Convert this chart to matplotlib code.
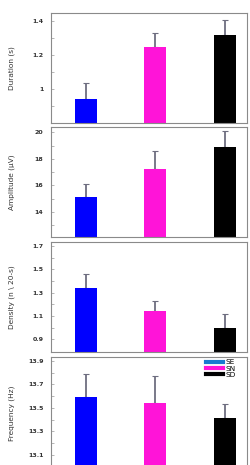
import numpy as np
import matplotlib.pyplot as plt

groups = ["SE", "SN", "SD"]
colors = ["#0000ff", "#ff14d8", "#000000"]
legend_colors = ["#1a7ad0", "#ff14d8", "#000000"]

duration = [0.94, 1.25, 1.32]
duration_err = [0.095, 0.08, 0.086]
amplitude = [15.1, 17.2, 18.9]
amplitude_err = [1.0, 1.4, 1.2]
density = [1.34, 1.14, 0.995]
density_err = [0.118, 0.092, 0.12]
frequency = [13.594, 13.543, 13.41]
frequency_err = [0.196, 0.227, 0.12]

panels = [
    ("Duration (s)", duration, duration_err, (0.8, 1.45), [1, 1.2, 1.4], ["1", "1.2", "1.4"], [0.9, 1.1, 1.3]),
    ("Amplitude (\u03bcV)", amplitude, amplitude_err, (12.1, 20.4), [14, 16, 18, 20], ["14", "16", "18", "20"], [13, 15, 17, 19]),
    ("Density (n \\ 20-s)", density, density_err, (0.79, 1.735), [0.9, 1.1, 1.3, 1.5, 1.7], ["0.9", "1.1", "1.3", "1.5", "1.7"], [1.0, 1.2, 1.4, 1.6]),
    ("Frequency (Hz)", frequency, frequency_err, (12.97, 13.934), [13.1, 13.3, 13.5, 13.7, 13.9], ["13.1", "13.3", "13.5", "13.7", "13.9"], [13.0, 13.2, 13.4, 13.6, 13.8]),
]

# axes boxes in pixels: (top, bottom)
W, H = 250, 465
boxes = [(13, 123), (127, 237), (242, 352), (357, 470)]
left, right = 51, 247

fig = plt.figure(figsize=(W / 100, H / 100), dpi=100)
x = np.arange(3)
for (label, vals, errs, ylim, ticks, ticklabels, minor), (top, bot) in zip(panels, boxes):
    ax = fig.add_axes([left / W, 1 - bot / H, (right - left) / W, (bot - top) / H])
    ax.bar(x, vals, width=0.32, color=colors, zorder=2)
    ax.errorbar(x, vals, yerr=[np.zeros(3), errs], fmt="none", ecolor="#6e6e80",
                elinewidth=1.3, capsize=2.5, capthick=0.8, zorder=1)
    ax.set_xlim(-0.5, 2.32)
    ax.set_ylim(*ylim)
    ax.set_xticks([])
    ax.set_yticks(ticks)
    ax.set_yticklabels(ticklabels, fontsize=4.5, fontweight="bold", color="#333333")
    ax.set_yticks(minor, minor=True)
    ax.tick_params(axis="y", which="both", direction="in", length=2, width=0.5,
                   color="#999999", pad=5.5)
    ax.set_ylabel(label, fontsize=5.3, color="#333333")
    ax.yaxis.set_label_coords(-0.185, 0.5)
    for s in ax.spines.values():
        s.set_color("#8a8a8a")
        s.set_linewidth(0.8)
    if label.startswith("Frequency"):
        handles = [plt.Line2D([], [], color=c, lw=3) for c in legend_colors]
        ax.legend(handles, groups, loc="upper right", bbox_to_anchor=(0.955, 1.0),
                  frameon=False, fontsize=5.3, handlelength=2.3, labelspacing=0.0,
                  borderaxespad=0.1, handletextpad=0.4, borderpad=0.2)

fig.savefig("out.png", dpi=100)
